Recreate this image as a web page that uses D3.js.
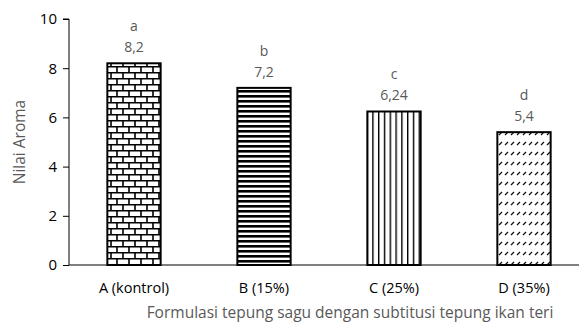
<!DOCTYPE html>
<html>
<head>
<meta charset="utf-8">
<script src="https://cdn.jsdelivr.net/npm/d3@7"></script>
<style>
  body { margin: 0; background: #fff; }
  text { font-family: "Open Sans", "Noto Sans", sans-serif; }
</style>
</head>
<body>
<script>
// data
const categories = ["A (kontrol)", "B (15%)", "C (25%)", "D (35%)"];
const values = [8.2, 7.2, 6.24, 5.4];
const letters = ["a", "b", "c", "d"];
const valueLabels = ["8,2", "7,2", "6,24", "5,4"];
const yTicks = [0, 2, 4, 6, 8, 10];
const patterns = ["brick", "hstripe", "vstripe", "dashdiag"];

const width = 579, height = 322;
const margin = { top: 19, left: 69, bottom: 57 };

const svg = d3.select("body").append("svg")
    .attr("width", width)
    .attr("height", height);

const defs = svg.append("defs");

// brick pattern
const brick = defs.append("pattern")
    .attr("id", "brick")
    .attr("patternUnits", "userSpaceOnUse")
    .attr("width", 12).attr("height", 12);
brick.append("rect").attr("width", 12).attr("height", 12).attr("fill", "#fff");
brick.append("path")
    .attr("d", "M0,0.75H12M0,6.75H12M3,0V6.75M9,6.75V12")
    .attr("stroke", "#000").attr("stroke-width", 1.6).attr("fill", "none");

// horizontal stripes
const hs = defs.append("pattern")
    .attr("id", "hstripe")
    .attr("patternUnits", "userSpaceOnUse")
    .attr("width", 10).attr("height", 5);
hs.append("rect").attr("width", 10).attr("height", 5).attr("fill", "#fff");
hs.append("rect").attr("y", 0).attr("width", 10).attr("height", 2.6).attr("fill", "#000");

// vertical stripes
const vs = defs.append("pattern")
    .attr("id", "vstripe")
    .attr("patternUnits", "userSpaceOnUse")
    .attr("x", 1)
    .attr("width", 5.8).attr("height", 10);
vs.append("rect").attr("width", 5.8).attr("height", 10).attr("fill", "#fff");
vs.append("rect").attr("x", 0).attr("width", 1.4).attr("height", 10).attr("fill", "#000");

// dashed diagonal
const dd = defs.append("pattern")
    .attr("id", "dashdiag")
    .attr("patternUnits", "userSpaceOnUse")
    .attr("width", 6).attr("height", 10);
dd.append("rect").attr("width", 6).attr("height", 10).attr("fill", "#fff");
dd.append("path")
    .attr("d", "M1,5L4,2")
    .attr("stroke", "#111").attr("stroke-width", 1.3).attr("fill", "none");

const x = d3.scaleBand()
    .domain(categories)
    .range([margin.left, margin.left + 520])
    .paddingInner(0.59)
    .paddingOuter(0.295);

const y = d3.scaleLinear()
    .domain([0, 10])
    .range([height - margin.bottom, margin.top]);

// bars
svg.selectAll(".bar")
    .data(values)
    .enter().append("rect")
    .attr("class", "bar")
    .attr("x", (d, i) => x(categories[i]))
    .attr("y", d => y(d))
    .attr("width", x.bandwidth())
    .attr("height", d => y(0) - y(d))
    .attr("fill", (d, i) => `url(#${patterns[i]})`)
    .attr("stroke", "#000")
    .attr("stroke-width", 2);

// y axis
const yAxis = svg.append("g")
    .attr("transform", `translate(${margin.left},0)`)
    .call(d3.axisLeft(y).tickValues(yTicks).tickSize(6).tickPadding(6).tickFormat(d3.format("d")));
yAxis.select(".domain").attr("stroke", "#000").attr("d", `M-6,${y(10)}H0V${y(0)}`);
yAxis.selectAll(".tick line").attr("stroke", "#000");
yAxis.selectAll(".tick text")
    .attr("fill", "#000")
    .style("font-size", "15px");

// x axis line
svg.append("line")
    .attr("x1", margin.left).attr("x2", width)
    .attr("y1", y(0)).attr("y2", y(0))
    .attr("stroke", "#000").attr("stroke-width", 1);

// category labels
svg.selectAll(".cat")
    .data(categories)
    .enter().append("text")
    .attr("class", "cat")
    .attr("x", d => x(d) + x.bandwidth() / 2)
    .attr("y", 293)
    .attr("text-anchor", "middle")
    .attr("fill", "#000")
    .style("font-size", "14.5px")
    .text(d => d);

// value labels + letters
svg.selectAll(".val")
    .data(values)
    .enter().append("text")
    .attr("class", "val")
    .attr("x", (d, i) => x(categories[i]) + x.bandwidth() / 2)
    .attr("y", d => y(d) - 11)
    .attr("text-anchor", "middle")
    .attr("fill", "#595959")
    .style("font-size", "14px")
    .text((d, i) => valueLabels[i]);

svg.selectAll(".letter")
    .data(values)
    .enter().append("text")
    .attr("class", "letter")
    .attr("x", (d, i) => x(categories[i]) + x.bandwidth() / 2)
    .attr("y", d => y(d) - 32)
    .attr("text-anchor", "middle")
    .attr("fill", "#595959")
    .style("font-size", "14px")
    .text((d, i) => letters[i]);

// axis titles
svg.append("text")
    .attr("transform", `translate(25,${(y(0) + y(10)) / 2}) rotate(-90)`)
    .attr("text-anchor", "middle")
    .attr("fill", "#595959")
    .style("font-size", "15.5px")
    .text("Nilai Aroma");

svg.append("text")
    .attr("x", 350)
    .attr("y", 318)
    .attr("text-anchor", "middle")
    .attr("fill", "#595959")
    .style("font-size", "15.5px")
    .text("Formulasi tepung sagu dengan subtitusi tepung ikan teri");
</script>
</body>
</html>
